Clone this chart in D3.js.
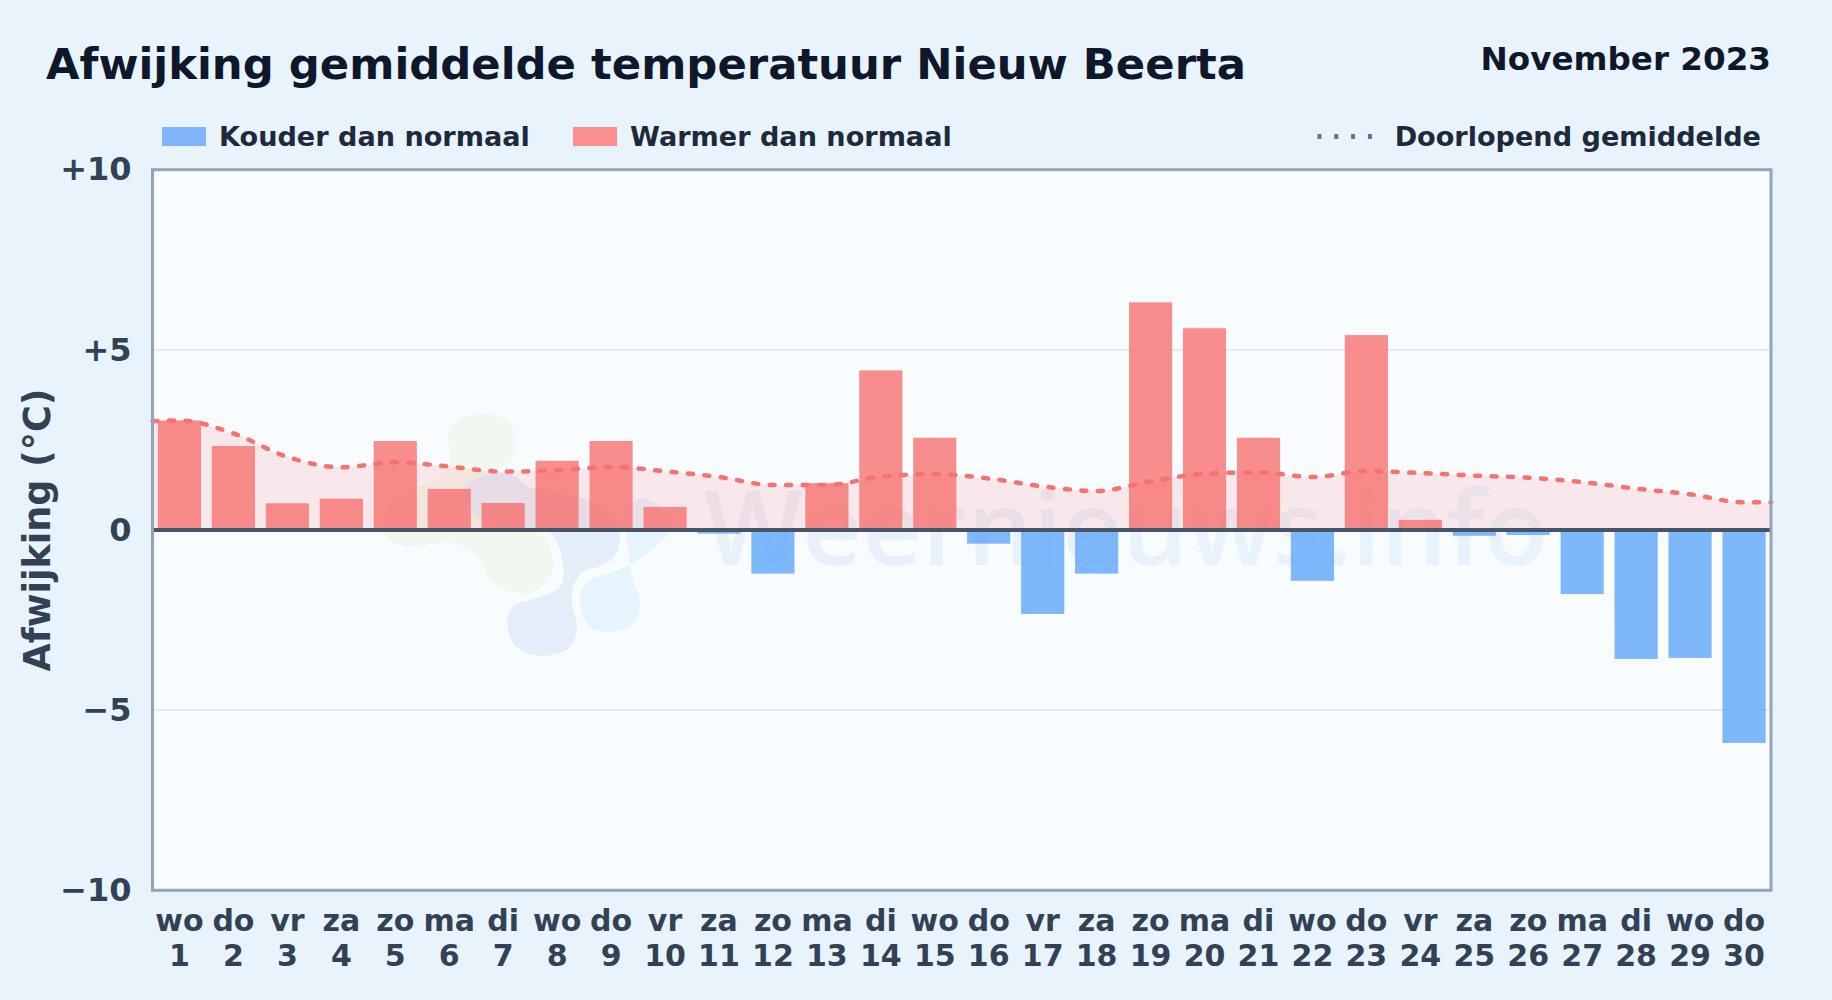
<!DOCTYPE html>
<html>
<head>
<meta charset="utf-8">
<title>Afwijking gemiddelde temperatuur Nieuw Beerta</title>
<script src="https://cdn.jsdelivr.net/npm/d3@7"></script>
<style>
  html, body { margin: 0; padding: 0; background: #e8f3fc; }
  svg { display: block; font-family: "DejaVu Sans", sans-serif; font-weight: bold; }
</style>
</head>
<body>
<svg id="chart" width="1832" height="1000"></svg>
<script>
// data
let days = d3.range(1, 31);
let weekdays = ["wo","do","vr","za","zo","ma","di","wo","do","vr","za","zo","ma","di","wo","do","vr","za","zo","ma","di","wo","do","vr","za","zo","ma","di","wo","do"];
let deviation = [3.04,2.33,0.74,0.87,2.47,1.14,0.75,1.92,2.47,0.64,-0.1,-1.21,1.3,4.43,2.56,-0.38,-2.33,-1.21,6.32,5.6,2.56,-1.41,5.41,0.28,-0.16,-0.14,-1.78,-3.58,-3.55,-5.91];
// running mean, the line runs on to both edges of the plot
let avgDays = [0.5, ...days, 30.5];
let avgValues = [3.02,3.04,2.68,2.03,1.74,1.88,1.76,1.62,1.66,1.75,1.63,1.47,1.25,1.25,1.48,1.55,1.43,1.21,1.08,1.35,1.56,1.6,1.47,1.64,1.58,1.51,1.45,1.33,1.15,0.99,0.77,0.77];
let yTicks = [-10,-5,0,5,10];
let gridTicks = [-5,5];

let legendLeft = [
  {label: "Kouder dan normaal", color: "#80b5fb", x: 162},
  {label: "Warmer dan normaal", color: "#fb8f8f", x: 573}
];

// watermark logo, traced by hand
let blobGreen = [[448,433],[457,420],[487,413],[510,423],[517,443],[510,462],[492,472],[520,505],[550,547],[553,567],[537,590],[517,593],[493,583],[480,560],[460,545],[437,543],[413,547],[390,540],[383,530],[390,505],[417,487],[437,480],[450,463]];
let blobGrey = [[465,487],[480,477],[510,474],[530,487],[560,492],[600,505],[618,525],[617,553],[603,565],[583,572],[573,587],[572,603],[577,627],[570,647],[543,656],[517,647],[507,623],[513,607],[537,598],[560,587],[563,563],[550,533],[520,528],[490,525],[470,510]];
let blobBlue = [[580,597],[587,582],[610,573],[633,563],[663,540],[670,530],[660,507],[640,498],[630,507],[626,530],[628,547],[632,577],[640,603],[633,623],[613,632],[590,627]];

let width = 1832, height = 1000;
let left = 152.5, right = 1771, top_ = 169.7, bottom = 890.3;

let svg = d3.select("#chart");

let x = d3.scaleBand().domain(days).range([left, right]).paddingInner(0.2).paddingOuter(0.1);
let xLine = d3.scaleLinear().domain([0.5, 30.5]).range([left, right]);
let y = d3.scaleLinear().domain([-10, 10]).range([bottom, top_]);

// page + plot background
svg.append("rect").attr("width", width).attr("height", height).attr("fill", "#e8f3fc");
svg.append("rect").attr("x", left).attr("y", top_).attr("width", right - left).attr("height", bottom - top_).attr("fill", "#f8fcff");

// watermark
let defs = svg.append("defs");
let wmGrad = defs.append("linearGradient").attr("id", "wmGrad").attr("gradientUnits", "userSpaceOnUse")
  .attr("x1", 700).attr("x2", 1550).attr("y1", 0).attr("y2", 0);
wmGrad.append("stop").attr("offset", 0).attr("stop-color", "#e8f0f8");
wmGrad.append("stop").attr("offset", 1).attr("stop-color", "#e7f4fd");

let blob = d3.line().curve(d3.curveCatmullRomClosed.alpha(0.5));
svg.append("path").attr("d", blob(blobGreen)).attr("fill", "#f2f8ef");
svg.append("path").attr("d", blob(blobGrey)).attr("fill", "#e4eef8");
svg.append("path").attr("d", blob(blobBlue)).attr("fill", "#e6f4fd");

svg.append("text")
  .attr("x", 704).attr("y", 565)
  .attr("font-family", "'Open Sans', sans-serif")
  .attr("font-weight", 600)
  .attr("font-size", 104)
  .attr("textLength", 844)
  .attr("fill", "url(#wmGrad)")
  .text("Weernieuws.info");

// grid
svg.selectAll(".grid").data(gridTicks).enter().append("line")
  .attr("class", "grid")
  .attr("x1", left).attr("x2", right)
  .attr("y1", d => y(d)).attr("y2", d => y(d))
  .attr("stroke", "#e2e8f0").attr("stroke-width", 1.6);

// area under running mean
let area = d3.area().curve(d3.curveMonotoneX)
  .x((d, i) => xLine(avgDays[i]))
  .y0(y(0))
  .y1(d => y(d));
svg.append("path").datum(avgValues).attr("d", area).attr("fill", "#ff6464").attr("fill-opacity", 0.13);

// bars
svg.selectAll(".bar").data(deviation).enter().append("rect")
  .attr("class", "bar")
  .attr("x", (d, i) => x(days[i]))
  .attr("width", x.bandwidth())
  .attr("y", d => y(Math.max(d, 0)))
  .attr("height", d => Math.abs(y(d) - y(0)))
  .attr("fill", d => d >= 0 ? "#f87171" : "#60a5fa")
  .attr("fill-opacity", 0.8);

// running mean line
let line = d3.line().curve(d3.curveMonotoneX)
  .x((d, i) => xLine(avgDays[i]))
  .y(d => y(d));
svg.append("path").datum(avgValues).attr("d", line)
  .attr("fill", "none")
  .attr("stroke", "#f87171")
  .attr("stroke-width", 4.5)
  .attr("stroke-linecap", "round")
  .attr("stroke-dasharray", "5 11.5");

// zero line + frame
svg.append("line").attr("x1", left).attr("x2", right).attr("y1", y(0)).attr("y2", y(0))
  .attr("stroke", "#475569").attr("stroke-width", 4);
svg.append("rect").attr("x", left).attr("y", top_).attr("width", right - left).attr("height", bottom - top_)
  .attr("fill", "none").attr("stroke", "#94a3b8").attr("stroke-width", 3);

// y axis
let yAxis = d3.axisLeft(y).tickValues(yTicks).tickSize(0).tickPadding(21)
  .tickFormat(d => d > 0 ? "+" + d : d < 0 ? "\u2212" + Math.abs(d) : "0");
let gy = svg.append("g").attr("transform", "translate(" + left + ",0)").call(yAxis);
gy.attr("font-family", null).attr("font-size", null);
gy.select(".domain").remove();
gy.selectAll("text").attr("font-size", 32).attr("fill", "#334155");

// x axis, weekday over day number
let xAxis = d3.axisBottom(x).tickSize(0).tickFormat("");
let gx = svg.append("g").attr("transform", "translate(0," + bottom + ")").call(xAxis);
gx.attr("font-family", null).attr("font-size", null);
gx.select(".domain").remove();
gx.selectAll("text").remove();
let xLabels = gx.selectAll(".tick").append("text")
  .attr("text-anchor", "middle").attr("font-size", 30).attr("fill", "#334155");
xLabels.append("tspan").attr("x", 0).attr("y", 41).text((d, i) => weekdays[i]);
xLabels.append("tspan").attr("x", 0).attr("y", 75.5).text(d => d);

// y title
svg.append("text")
  .attr("transform", "translate(50,530) rotate(-90)")
  .attr("text-anchor", "middle")
  .attr("font-size", 36.5).attr("fill", "#334155")
  .text("Afwijking (\u00b0C)");

// titles
svg.append("text").attr("x", 46).attr("y", 79).attr("font-size", 43.35).attr("fill", "#0f172a")
  .text("Afwijking gemiddelde temperatuur Nieuw Beerta");
svg.append("text").attr("x", 1771).attr("y", 70).attr("text-anchor", "end").attr("font-size", 32.6).attr("fill", "#0f172a")
  .text("November 2023");

// legend
let legend = svg.append("g");
legend.selectAll("rect").data(legendLeft).enter().append("rect")
  .attr("x", d => d.x).attr("y", 127).attr("width", 44).attr("height", 19).attr("fill", d => d.color);
legend.selectAll("text.left").data(legendLeft).enter().append("text")
  .attr("class", "left")
  .attr("x", d => d.x + 57).attr("y", 146).attr("font-size", 27.1).attr("fill", "#1e293b")
  .text(d => d.label);
legend.append("line").attr("x1", 1317.5).attr("x2", 1373.5).attr("y1", 136.5).attr("y2", 136.5)
  .attr("stroke", "#64748b").attr("stroke-width", 5).attr("stroke-dasharray", "4 12.8");
legend.append("text").attr("x", 1761).attr("y", 146).attr("text-anchor", "end")
  .attr("font-size", 27.1).attr("fill", "#1e293b").text("Doorlopend gemiddelde");
</script>
</body>
</html>
